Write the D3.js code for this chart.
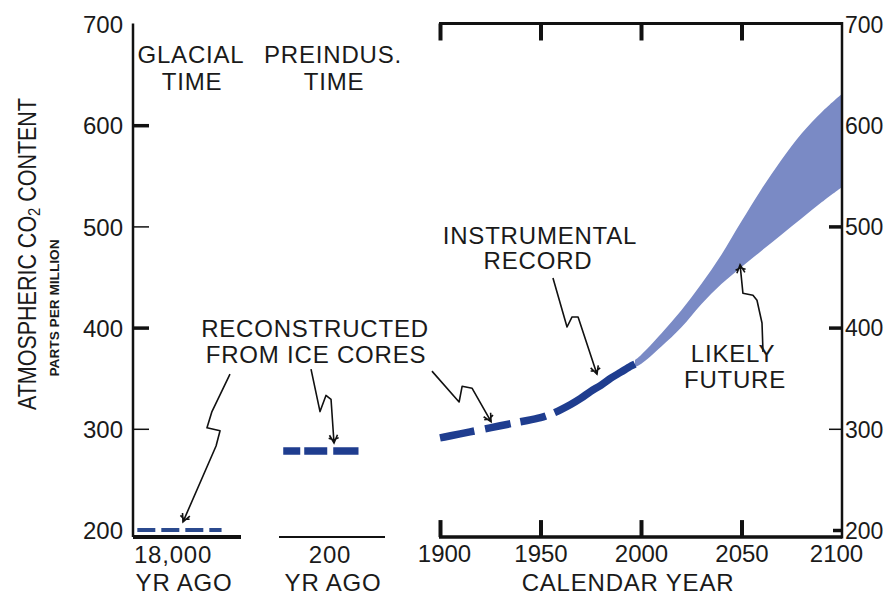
<!DOCTYPE html>
<html>
<head>
<meta charset="utf-8">
<script src="https://cdn.jsdelivr.net/npm/d3@7"></script>
<style>
  html, body { margin: 0; padding: 0; background: #fff; }
  svg { display: block; }
  text { font-family: "Liberation Sans", Arial, sans-serif; fill: #1a1a1a; }
</style>
</head>
<body>
<svg id="chart" width="890" height="595"></svg>
<script>
// ---------------- DATA ----------------
const yTickValues = [700, 600, 500, 400, 300, 200];
const yearTicks = [1900, 1950, 2000, 2050, 2100];

const glacialCO2 = 200;        // 18,000 yr ago
const preindustrialCO2 = 278;  // 200 yr ago

// reconstructed from ice cores (1900-1957) + instrumental record (1957-1997)
const histYears = [1900, 1910, 1920, 1930, 1940, 1950, 1957, 1965, 1970, 1975, 1980, 1985, 1990, 1995, 1997];
const histCO2   = [291, 295, 299, 303, 307, 311, 316, 324, 330, 337, 343, 350, 356, 362, 364];
const instrumentStart = 1957;

const projYears = [1997, 2000, 2010, 2020, 2030, 2040, 2050, 2060, 2070, 2080, 2090, 2100];
const projLow   = [361, 364, 381, 400, 423, 443, 460, 476, 492, 508, 524, 539];
const projHigh  = [368, 373, 394, 417, 443, 472, 505, 537, 566, 592, 613, 631];

// annotation arrows (data coordinates of their panel)
const glacialArrow = [[0.898, 354], [0.731, 317], [0.685, 301], [0.806, 298], [0.769, 283], [0.463, 208]];
const preindArrow  = [[0.302, 359], [0.387, 317], [0.443, 333], [0.491, 329], [0.519, 286]];
const iceArrow     = [[1896, 357], [1909.5, 326.5], [1911, 342], [1916, 340], [1925.4, 307]];
const instArrow    = [[1956.2, 449], [1963.2, 400.6], [1965.7, 410.5], [1968.7, 410.5], [1978.1, 354]];
const futureArrow  = [[2060.7, 376], [2060.2, 404.5], [2057.7, 427], [2055.7, 432], [2050.7, 434], [2049.3, 462]];

// ---------------- LAYOUT ----------------
const svg = d3.select("#chart");
const DARK = "#1f3d8f";
const BAND = "#7a8ac5";
const INK = "#111";

const y = d3.scaleLinear().domain([200, 700]).range([530, 24]);
const yBase = y(193);          // bottom baseline of all three panels
const yTop = y(700.5);

const xG = d3.scaleLinear().domain([0, 1]).range([133, 241]);  // glacial panel
const xP = d3.scaleLinear().domain([0, 1]).range([279, 385]);  // preindustrial panel
const x  = d3.scaleLinear().domain([1900, 2100]).range([440, 842]); // calendar years

// arrow marker
const defs = svg.append("defs");
defs.append("marker")
  .attr("id", "ah").attr("viewBox", "-10 -6 12 12")
  .attr("refX", 0).attr("refY", 0)
  .attr("markerWidth", 12).attr("markerHeight", 12)
  .attr("markerUnits", "userSpaceOnUse")
  .attr("orient", "auto")
  .append("path")
  .attr("d", "M-8,-4 L0,0 L-8,4 M-5,-5 L-3,0 L-5,5")
  .attr("fill", "none").attr("stroke", INK).attr("stroke-width", 1.6);

// ---------------- LEFT AXIS ----------------
svg.append("line").attr("x1", xG(0)).attr("x2", xG(0)).attr("y1", yTop).attr("y2", yBase)
  .attr("stroke", INK).attr("stroke-width", 2.5);

const leftTicks = svg.append("g").attr("transform", `translate(${xG(0)},0)`)
  .call(d3.axisRight(y).tickValues([600, 500, 400, 300]).tickSize(16).tickFormat(""));
leftTicks.select(".domain").remove();
leftTicks.selectAll(".tick line").attr("stroke", INK)
  .attr("stroke-width", d => (d === 600 || d === 400) ? 3.5 : 1.5);

const leftLabels = svg.append("g").attr("transform", `translate(${xG(0) - 10},0)`)
  .call(d3.axisLeft(y).tickValues(yTickValues).tickSize(0).tickPadding(0));
leftLabels.select(".domain").remove();
leftLabels.selectAll(".tick text").attr("font-size", 24).attr("font-family", "Liberation Sans, Arial, sans-serif")
  .attr("fill", "#1a1a1a").attr("dy", "0.36em");

// ---------------- RIGHT PANEL FRAME ----------------
svg.append("line").attr("x1", x(1900) - 1).attr("x2", x(2100)).attr("y1", yTop).attr("y2", yTop)
  .attr("stroke", INK).attr("stroke-width", 3);
svg.append("line").attr("x1", x(1900) - 1).attr("x2", x(2100)).attr("y1", yBase).attr("y2", yBase)
  .attr("stroke", INK).attr("stroke-width", 3.5);

const topTicks = svg.append("g").attr("transform", `translate(0,${yTop})`)
  .call(d3.axisBottom(x).tickValues(yearTicks.slice(0, 4)).tickSize(17).tickFormat(""));
topTicks.select(".domain").remove();
topTicks.selectAll(".tick line").attr("stroke", INK).attr("stroke-width", 4);

const botTicks = svg.append("g").attr("transform", `translate(0,${yBase})`)
  .call(d3.axisTop(x).tickValues(yearTicks.slice(0, 4)).tickSize(17).tickFormat(""));
botTicks.select(".domain").remove();
botTicks.selectAll(".tick line").attr("stroke", INK).attr("stroke-width", 4);

const botLabels = svg.append("g").attr("transform", `translate(0,${yBase})`)
  .call(d3.axisBottom(x).tickValues(yearTicks).tickSize(0).tickPadding(0).tickFormat(d3.format("d")));
botLabels.select(".domain").remove();
botLabels.selectAll(".tick text").attr("font-size", 24).attr("font-family", "Liberation Sans, Arial, sans-serif")
  .attr("fill", "#1a1a1a").attr("y", 25).attr("dy", 0)
  .attr("dx", d => d === 1900 ? 4 : (d === 2100 ? -6 : 0));

const rightTicks = svg.append("g").attr("transform", `translate(${x(2100)},0)`)
  .call(d3.axisLeft(y).tickValues([600, 500, 400, 300, 200]).tickSize(13).tickFormat(""));
rightTicks.select(".domain").remove();
rightTicks.selectAll(".tick line").attr("stroke", INK)
  .attr("stroke-width", d => d === 300 ? 1.5 : 3.5)
  .attr("x2", d => d === 200 ? -9 : -13);

// ---------------- PROJECTION BAND ----------------
const projData = projYears.map((yr, i) => ({ yr, lo: projLow[i], hi: projHigh[i] }));
svg.append("path").datum(projData)
  .attr("d", d3.area().x(d => x(d.yr)).y0(d => y(d.lo)).y1(d => y(d.hi)).curve(d3.curveCatmullRom.alpha(0.5)))
  .attr("fill", BAND);

svg.append("line").attr("x1", x(2100)).attr("x2", x(2100)).attr("y1", yTop - 1.5).attr("y2", yBase + 1.5)
  .attr("stroke", INK).attr("stroke-width", 2.5);

const rightLabels = svg.append("g").attr("transform", `translate(${x(2100) + 3},0)`)
  .call(d3.axisRight(y).tickValues(yTickValues).tickSize(0).tickPadding(0));
rightLabels.select(".domain").remove();
rightLabels.selectAll(".tick text").attr("font-size", 23).attr("font-family", "Liberation Sans, Arial, sans-serif")
  .attr("fill", "#1a1a1a").attr("dy", "0.36em");

// ---------------- LEFT PANEL BASELINES ----------------
svg.append("line").attr("x1", xG(0)).attr("x2", xG(1)).attr("y1", yBase).attr("y2", yBase)
  .attr("stroke", INK).attr("stroke-width", 4);
svg.append("line").attr("x1", xP(0)).attr("x2", xP(1)).attr("y1", yBase).attr("y2", yBase)
  .attr("stroke", INK).attr("stroke-width", 2);

// ---------------- DATA MARKS ----------------
svg.append("line").attr("x1", xG(0.04)).attr("x2", xG(0.82))
  .attr("y1", y(glacialCO2)).attr("y2", y(glacialCO2))
  .attr("stroke", "#2b4a8e").attr("stroke-width", 4).attr("stroke-dasharray", "18,6");
svg.append("line").attr("x1", xP(0.04)).attr("x2", xP(0.75))
  .attr("y1", y(preindustrialCO2)).attr("y2", y(preindustrialCO2))
  .attr("stroke", DARK).attr("stroke-width", 7.5).attr("stroke-dasharray", "17,4,23,6,29");

// historical curve: one smooth path, dashed for ice-core part, solid for instrumental part
const histPts = histYears.map((yr, i) => [yr, histCO2[i]]);
const histPath = svg.append("path").datum(histPts)
  .attr("d", d3.line().x(d => x(d[0])).y(d => y(d[1])).curve(d3.curveCatmullRom.alpha(0.5)))
  .attr("fill", "none").attr("stroke", DARK).attr("stroke-width", 7.5);
(function () {
  const node = histPath.node();
  const L = node.getTotalLength();
  const target = x(instrumentStart);
  let lo = 0, hi = L;
  for (let k = 0; k < 40; k++) {
    const mid = (lo + hi) / 2;
    if (node.getPointAtLength(mid).x < target) lo = mid; else hi = mid;
  }
  const split = lo;
  const pattern = [5, 0, 30, 11, 26, 10, 26];
  const used = pattern.reduce((a, b) => a + b, 0);
  const gap = Math.max(0, split - used);
  histPath.attr("stroke-dasharray", [...pattern, gap, L + 10, 0].join(","));
})();

// ---------------- ARROWS ----------------
function arrow(pts, xs) {
  svg.append("path").datum(pts)
    .attr("d", d3.line().x(d => xs(d[0])).y(d => y(d[1])))
    .attr("fill", "none").attr("stroke", INK).attr("stroke-width", 1.6)
    .attr("stroke-linejoin", "round")
    .attr("marker-end", "url(#ah)");
}
arrow(glacialArrow, xG);
arrow(preindArrow, xP);
arrow(iceArrow, x);
arrow(instArrow, x);
arrow(futureArrow, x);

// ---------------- TEXT ----------------
const labels = [
  ["GLACIAL", 191, 63], ["TIME", 192, 90],
  ["PREINDUS.", 333, 63], ["TIME", 334, 90],
  ["RECONSTRUCTED", 315, 337], ["FROM ICE CORES", 316, 363],
  ["INSTRUMENTAL", 540, 244], ["RECORD", 538, 269],
  ["LIKELY", 733, 362], ["FUTURE", 735, 388],
  ["18,000", 173, 563], ["YR AGO", 184, 591],
  ["200", 330, 563], ["YR AGO", 333, 591],
  ["CALENDAR YEAR", 628, 591]
];
svg.append("g").selectAll("text").data(labels).join("text")
  .attr("x", d => d[1]).attr("y", d => d[2])
  .attr("text-anchor", "middle").attr("font-size", 24)
  .attr("letter-spacing", 0.8)
  .text(d => d[0]);

const t1 = svg.append("text").attr("transform", "translate(36,254) rotate(-90)")
  .attr("text-anchor", "middle").attr("font-size", 25)
  .attr("textLength", 312).attr("lengthAdjust", "spacingAndGlyphs");
t1.append("tspan").text("ATMOSPHERIC CO");
t1.append("tspan").attr("font-size", 17).attr("dy", 4).text("2");
t1.append("tspan").attr("dy", -4).text(" CONTENT");

svg.append("text").attr("transform", "translate(59,308) rotate(-90)")
  .attr("text-anchor", "middle").attr("font-size", 13).attr("font-weight", "bold")
  .attr("textLength", 137).attr("lengthAdjust", "spacingAndGlyphs")
  .text("PARTS PER MILLION");
</script>
</body>
</html>
